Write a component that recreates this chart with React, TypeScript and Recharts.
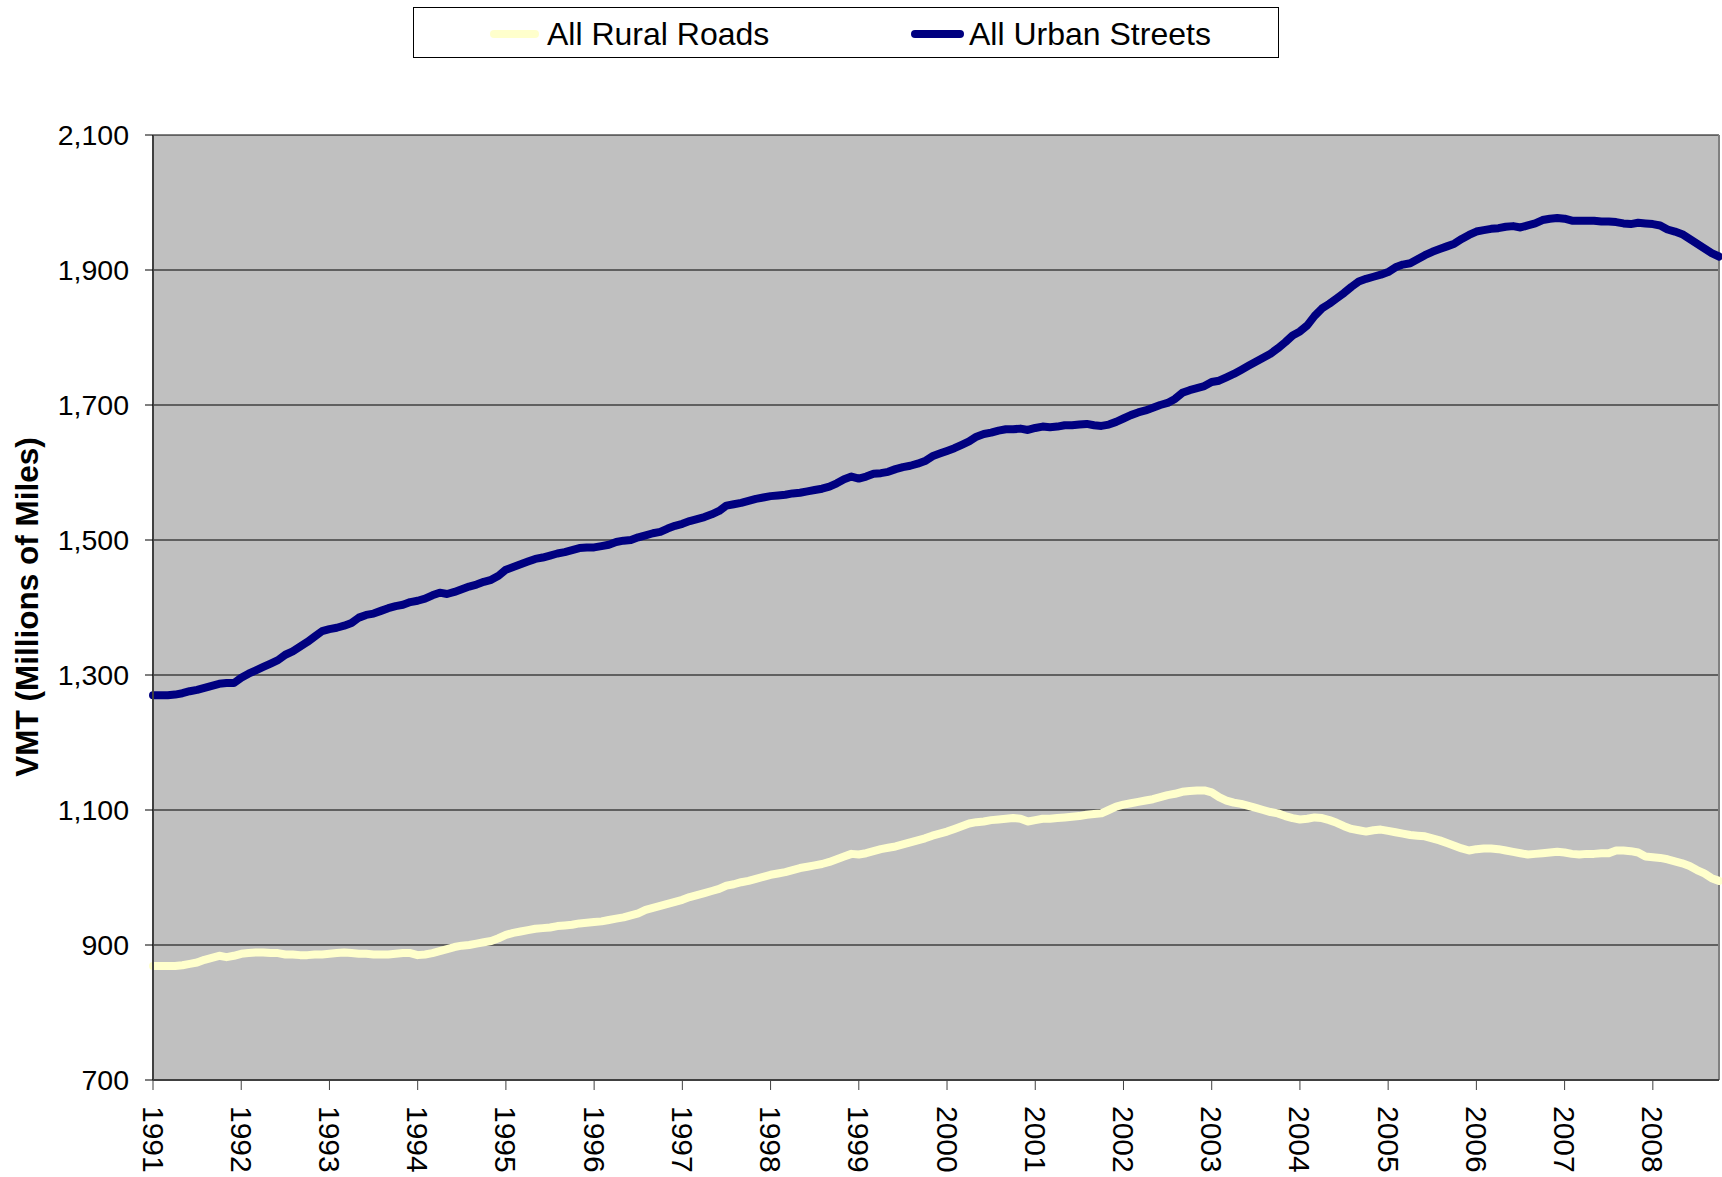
import { LineChart, Line, XAxis, YAxis, CartesianGrid, Legend, ReferenceLine } from "recharts";

const FONT = "'Liberation Sans', Arial, sans-serif";

const years = [
  "1991", "1992", "1993", "1994", "1995", "1996", "1997", "1998", "1999",
  "2000", "2001", "2002", "2003", "2004", "2005", "2006", "2007", "2008",
];

// monthly values, Jan 1991 .. Oct 2008
const urbanStreets = [
  1270, 1270, 1270, 1271, 1273, 1276, 1278, 1281, 1284, 1287, 1288, 1288,
  1296, 1302, 1307, 1312, 1317, 1322, 1330, 1335, 1342, 1349, 1357, 1365,
  1368, 1370, 1373, 1377, 1385, 1389, 1391, 1395, 1399, 1402, 1404, 1408,
  1410, 1413, 1418, 1422, 1420, 1423, 1427, 1431, 1434, 1438, 1441, 1447,
  1456, 1460, 1464, 1468, 1472, 1474, 1477, 1480, 1482, 1485, 1488, 1489,
  1489, 1491, 1493, 1497, 1499, 1500, 1504, 1507, 1510, 1512, 1517, 1521,
  1524, 1528, 1531, 1534, 1538, 1543, 1551, 1553, 1555, 1558, 1561, 1563,
  1565, 1566, 1567, 1569, 1570, 1572, 1574, 1576, 1579, 1584, 1590, 1594,
  1591, 1594, 1598, 1599, 1601, 1605, 1608, 1610, 1613, 1617, 1624, 1628,
  1632, 1636, 1641, 1646, 1653, 1657, 1659, 1662, 1664, 1664, 1665, 1663,
  1666, 1668, 1667, 1668, 1670, 1670, 1671, 1672, 1670, 1669, 1671, 1675,
  1680, 1685, 1689, 1692, 1696, 1700, 1703, 1709, 1718, 1722, 1725, 1728,
  1734, 1736, 1741, 1746, 1752, 1758, 1764, 1770, 1776, 1784, 1793, 1803,
  1809, 1818, 1832, 1843, 1850, 1858, 1866, 1875, 1883, 1887, 1890, 1893,
  1897, 1904, 1908, 1910, 1916, 1922, 1927, 1931, 1935, 1939, 1946, 1952,
  1957, 1959, 1961, 1962, 1964, 1965, 1963, 1966, 1969, 1974, 1976, 1977,
  1976, 1973, 1973, 1973, 1973, 1972, 1972, 1971, 1969, 1968, 1970, 1969,
  1968, 1966, 1960, 1957, 1953, 1946, 1939, 1932, 1925, 1920,
];

const ruralRoads = [
  869, 869, 869, 869, 870, 872, 874, 878, 881, 884, 882, 884,
  887, 888, 889, 889, 888, 888, 886, 886, 885, 885, 886, 886,
  887, 888, 889, 888, 887, 887, 886, 886, 886, 887, 888, 888,
  885, 886, 888, 891, 894, 897, 899, 900, 902, 904, 906, 910,
  915, 918, 920, 922, 924, 925, 926, 928, 929, 930, 932, 933,
  934, 935, 937, 939, 941, 944, 947, 952, 955, 958, 961, 964,
  967, 971, 974, 977, 980, 983, 988, 990, 993, 995, 998, 1001,
  1004, 1006, 1008, 1011, 1014, 1016, 1018, 1020, 1023, 1027, 1031, 1035,
  1034, 1036, 1039, 1042, 1044, 1046, 1049, 1052, 1055, 1058, 1062, 1065,
  1068, 1072, 1076, 1080, 1082, 1083, 1085, 1086, 1087, 1088, 1087, 1083,
  1085, 1087, 1087, 1088, 1089, 1090, 1091, 1093, 1094, 1095, 1100, 1105,
  1108, 1110, 1112, 1114, 1116, 1119, 1122, 1124, 1127, 1128, 1129, 1129,
  1126, 1119, 1114, 1111, 1109, 1106, 1103, 1100, 1097, 1095, 1091, 1088,
  1086, 1087, 1089, 1088, 1085, 1081, 1076, 1072, 1070, 1068, 1070, 1071,
  1069, 1067, 1065, 1063, 1062, 1061, 1058, 1055, 1051, 1047, 1043, 1040,
  1042, 1043, 1043, 1042, 1040, 1038, 1036, 1034, 1035, 1036, 1037, 1038,
  1037, 1035, 1034, 1035, 1035, 1036, 1036, 1040, 1040, 1039, 1037, 1031,
  1030, 1029, 1027, 1024, 1021, 1017, 1011, 1006, 999, 995,
];

const yTicks = [700, 900, 1100, 1300, 1500, 1700, 1900, 2100];

const data = ruralRoads.map((v, i) => ({ month: i, rural: v, urban: urbanStreets[i] }));
const xTicks = years.map((_, i) => i * 12);

const RURAL = "#ffffcc";
const URBAN = "#000080";

function YearTick({ x, y, payload }: any) {
  return (
    <text
      x={x}
      y={y}
      transform={`rotate(90, ${x}, ${y})`}
      textAnchor="start"
      dominantBaseline="central"
      fontSize={30}
      fontFamily={FONT}
      fill="#000"
    >
      {years[payload.value / 12]}
    </text>
  );
}

function LegendBox() {
  const entries = [
    { name: "All Rural Roads", color: RURAL, line: 76, lineW: 49, text: 133 },
    { name: "All Urban Streets", color: URBAN, line: 497, lineW: 53, text: 555 },
  ];
  return (
    <div
      style={{
        position: "absolute",
        left: 413,
        top: 7,
        width: 866,
        height: 51,
        boxSizing: "border-box",
        border: "1px solid #000",
        background: "#fff",
        fontFamily: FONT,
        fontSize: 32,
        color: "#000",
      }}
    >
      {entries.map((e) => (
        <div key={e.name}>
          <div
            style={{
              position: "absolute",
              left: e.line,
              top: 22,
              width: e.lineW,
              height: 8,
              borderRadius: 4,
              background: e.color,
            }}
          />
          <div style={{ position: "absolute", left: e.text, top: 7, lineHeight: "38px", whiteSpace: "nowrap" }}>
            {e.name}
          </div>
        </div>
      ))}
    </div>
  );
}

export default function App() {
  return (
    <div style={{ position: "absolute", left: 0, top: 0, width: 1722, height: 1177, background: "#fff" }}>
      <LineChart
        width={1722}
        height={1177}
        data={data}
        margin={{ top: 135, right: 3, bottom: 0, left: 0 }}
      >
        <CartesianGrid vertical={false} stroke="#000" fill="#c0c0c0" fillOpacity={1} />
        <XAxis
          dataKey="month"
          type="number"
          domain={[0, 213]}
          ticks={xTicks}
          interval={0}
          height={97}
          axisLine={{ stroke: "#404040", strokeWidth: 2 }}
          tickLine={{ stroke: "#404040" }}
          tickSize={10}
          tickMargin={16}
          tick={<YearTick />}
        />
        <YAxis
          type="number"
          domain={[700, 2100]}
          ticks={yTicks}
          interval={0}
          width={153}
          axisLine={{ stroke: "#404040", strokeWidth: 2 }}
          tickLine={{ stroke: "#000" }}
          tickSize={8}
          tickMargin={16}
          tickFormatter={(v: number) => v.toLocaleString("en-US")}
          tick={{ fill: "#000", fontSize: 28.5, fontFamily: FONT }}
          label={{
            content: () => (
              <text
                x={27}
                y={607}
                transform="rotate(-90, 27, 607)"
                textAnchor="middle"
                dominantBaseline="central"
                fontSize={31.5}
                fontWeight="bold"
                fontFamily={FONT}
                fill="#000"
              >
                VMT (Millions of Miles)
              </text>
            ),
          }}
        />
        <ReferenceLine x={213} stroke="#808080" strokeWidth={2} />
        <Legend
          layout="vertical"
          align="center"
          verticalAlign="middle"
          wrapperStyle={{ position: "absolute", left: 0, top: 0, width: 1722, height: 0 }}
          content={() => <LegendBox />}
        />
        <Line
          type="linear"
          dataKey="rural"
          name="All Rural Roads"
          stroke={RURAL}
          strokeWidth={8}
          strokeLinejoin="round"
          strokeLinecap="round"
          dot={false}
          isAnimationActive={false}
        />
        <Line
          type="linear"
          dataKey="urban"
          name="All Urban Streets"
          stroke={URBAN}
          strokeWidth={8}
          strokeLinejoin="round"
          strokeLinecap="round"
          dot={false}
          isAnimationActive={false}
        />
      </LineChart>
    </div>
  );
}
